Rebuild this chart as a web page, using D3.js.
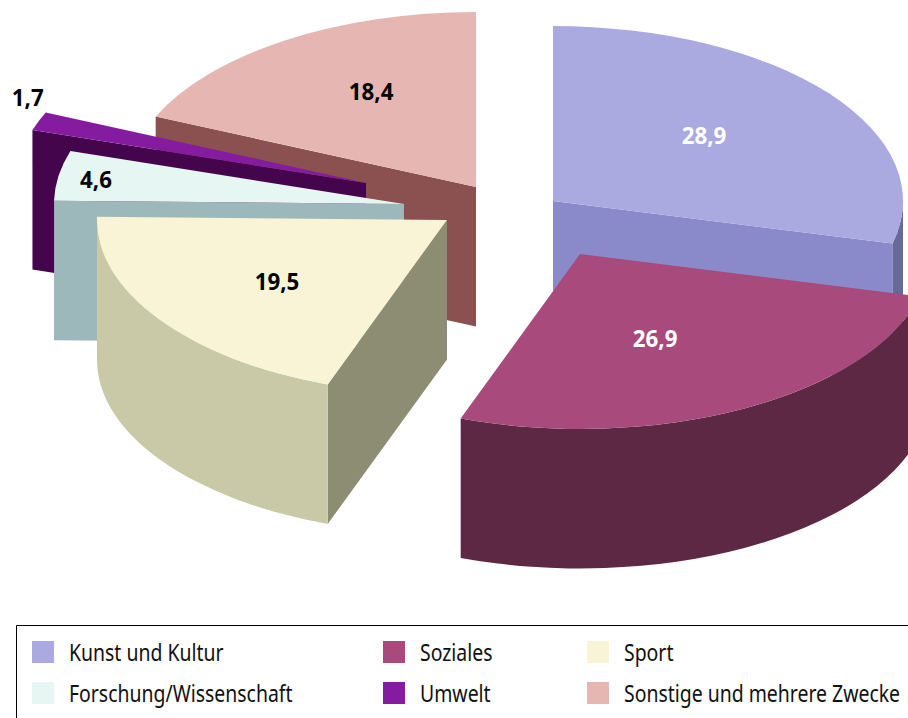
<!DOCTYPE html>
<html>
<head>
<meta charset="utf-8">
<script src="https://cdn.jsdelivr.net/npm/d3@7"></script>
<style>
    html, body { margin: 0; padding: 0; background: #fff; overflow: hidden; }
    svg { display: block; font-family: "Noto Sans", sans-serif; }
</style>
</head>
<body>
<div id="chart"></div>
<script>
// Chart values
const categories = ["Kunst und Kultur", "Soziales", "Sport", "Forschung/Wissenschaft", "Umwelt", "Sonstige und mehrere Zwecke"];
const values = [28.9, 26.9, 19.5, 4.6, 1.7, 18.4];
const labels = ["28,9", "26,9", "19,5", "4,6", "1,7", "18,4"];

// Colours per slice
const topColors = ["#abaae0", "#a84a7b", "#f9f4d6", "#e6f6f3", "#851ca0", "#e6b6b2"];
const wallColors = ["#8a8acb", "#7a3559", "#8d8d73", "#9db8ba", "#44054d", "#8b5050"];
const rimColors = ["#666a9a", "#5c2844", "#c9c9a8", "#9db8ba", "#44054d", "#8b5050"];
const labelColors = ["#fff", "#fff", "#000", "#000", "#000", "#000"];

// Layout per slice: explosion away from the pie centre, label position in radius fractions
const explode = [[77, 15], [104, 68], [-29, 34], [-72, 18], [-110, -3], [0, 1]];
const labelFrac = [[0.551, 0.612], [0.463, 0.548], [0.586, 0.62], [0.889, 0.88], [1.03, 1.39], [0.543, 0.655]];
const drawOrder = [5, 0, 4, 3, 2, 1];

const width = 908;
const height = 718;
const center = { x: 476, y: 186 };
const rx = 350;
const ry = 175;
const depth = 139.5;

// The original's 3D projection pulls the Soziales/Sport edge back about a degree
const edgeNudge = -0.95 * Math.PI / 180;

const svg = d3.select("#chart")
    .append("svg")
    .attr("width", width)
    .attr("height", height);

const pie = d3.pie().sort(null).value(d => d)(values);
pie[1].endAngle += edgeNudge;
pie[2].startAngle += edgeNudge;

const arc = d3.arc().innerRadius(0).outerRadius(1);

// Point on the rim, angle 0 is straight up, clockwise
const rimPoint = (a, c) => [c.x + rx * Math.sin(a), c.y - ry * Math.cos(a)];

drawOrder.forEach(i => {
    const p = pie[i];
    const c = { x: center.x + explode[i][0], y: center.y + explode[i][1] };
    const g = svg.append("g");

    // Radial walls, only those that face the viewer
    [p.startAngle, p.endAngle].forEach((a, k) => {
        const visible = k === 0 ? Math.sin(a) < -1e-6 : Math.sin(a) > 1e-6;
        if (!visible) return;
        const [x, y] = rimPoint(a, c);
        g.append("path")
            .attr("d", `M${c.x},${c.y}L${x},${y}L${x},${y + depth}L${c.x},${c.y + depth}Z`)
            .attr("fill", wallColors[i]);
    });

    // Outer rim, front half of the ellipse only
    const a0 = Math.max(p.startAngle, Math.PI / 2);
    const a1 = Math.min(p.endAngle, 3 * Math.PI / 2);
    if (a1 > a0) {
        const [x0, y0] = rimPoint(a0, c);
        const [x1, y1] = rimPoint(a1, c);
        g.append("path")
            .attr("d", `M${x0},${y0}A${rx},${ry} 0 0 1 ${x1},${y1}L${x1},${y1 + depth}A${rx},${ry} 0 0 0 ${x0},${y0 + depth}Z`)
            .attr("fill", rimColors[i]);
    }

    // Top face
    g.append("path")
        .attr("d", arc(p))
        .attr("transform", `translate(${c.x},${c.y}) scale(${rx},${ry})`)
        .attr("fill", topColors[i]);
});

// Value labels go on top of all slices
pie.forEach((p, i) => {
    const mid = (p.startAngle + p.endAngle) / 2;
    const x = center.x + explode[i][0] + rx * labelFrac[i][0] * Math.sin(mid);
    const y = center.y + explode[i][1] - ry * labelFrac[i][1] * Math.cos(mid);
    svg.append("text")
        .attr("transform", `translate(${x - 1},${y}) scale(0.93,1)`)
        .attr("text-anchor", "middle")
        .attr("dy", "0.36em")
        .style("font-size", "24px")
        .style("font-weight", "bold")
        .attr("fill", labelColors[i])
        .text(labels[i]);
});

// Legend box, open on the right and at the bottom
svg.append("path")
    .attr("d", `M${width},625.5H16.5V${height}`)
    .attr("fill", "none")
    .attr("stroke", "#000")
    .attr("stroke-width", 1);

const legendX = [32, 383, 587];
const legendY = [641, 682];

categories.forEach((name, i) => {
    const x = legendX[i % 3];
    const y = legendY[Math.floor(i / 3)];
    svg.append("rect")
        .attr("x", x)
        .attr("y", y)
        .attr("width", 22)
        .attr("height", 22)
        .attr("fill", topColors[i]);
    svg.append("text")
        .attr("transform", `translate(${x + 37},${y + 20}) scale(0.845,1)`)
        .style("font-size", "23px")
        .attr("fill", "#111")
        .text(name);
});
</script>
</body>
</html>
